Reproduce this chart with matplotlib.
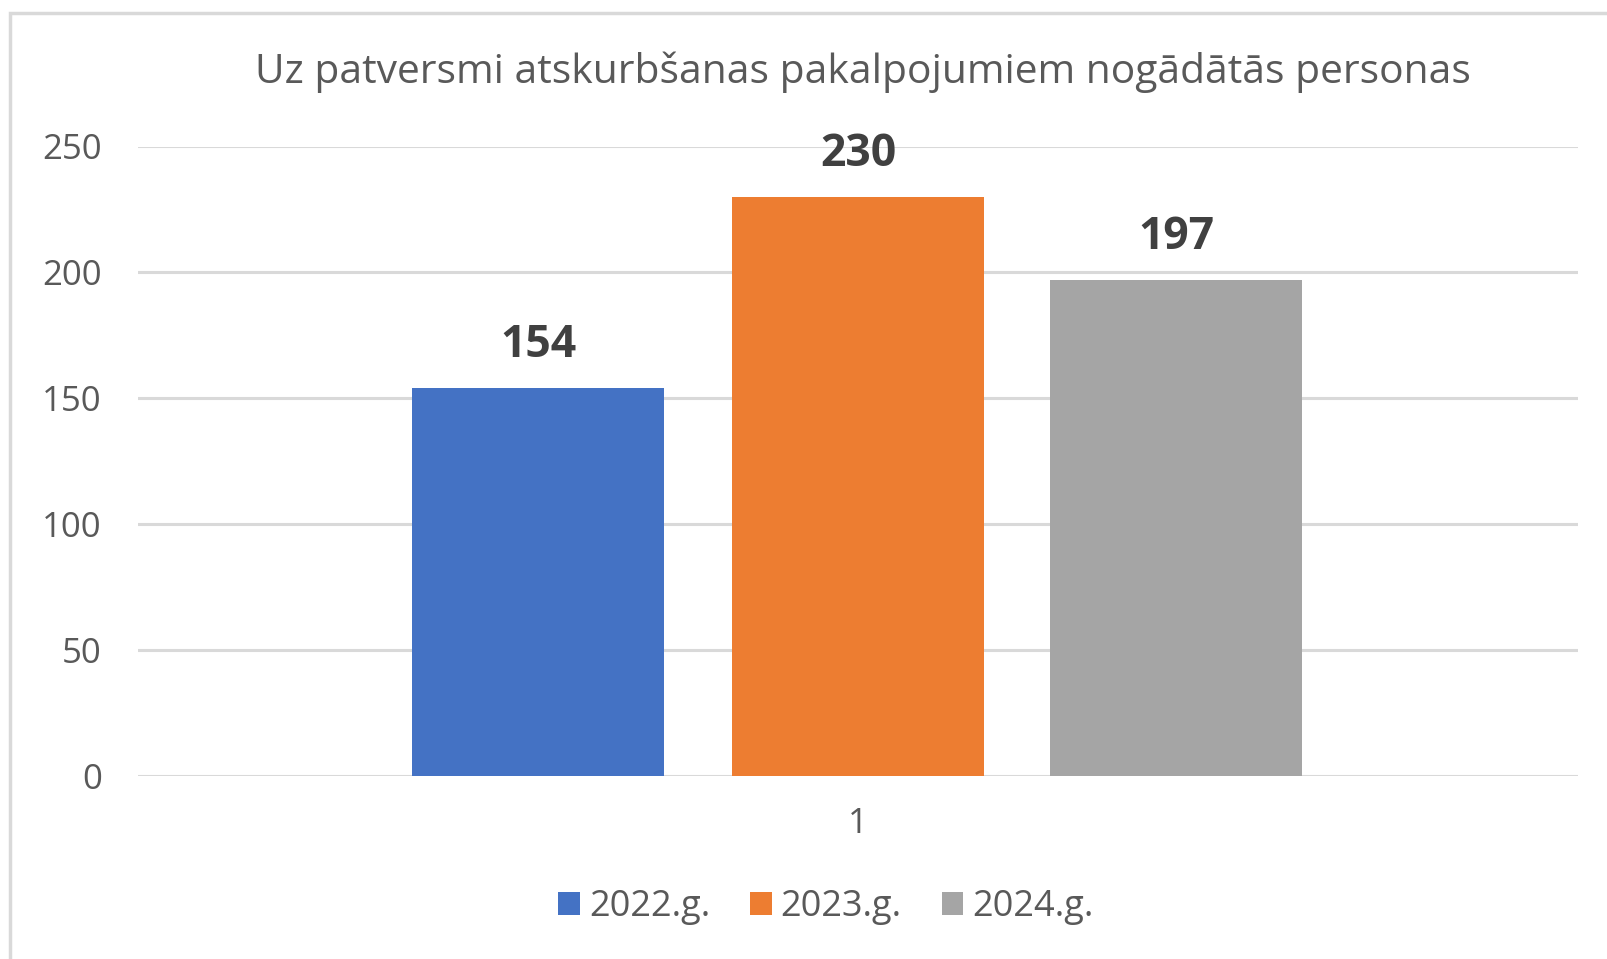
import matplotlib
matplotlib.use("Agg")
import matplotlib.pyplot as plt
from matplotlib.patches import Rectangle

plt.rcParams['font.family'] = ['Open Sans', 'DejaVu Sans']

title = "Uz patversmi atskurbšanas pakalpojumiem nogādātās personas"
categories = ["1"]
series = ["2022.g.", "2023.g.", "2024.g."]
values = [154, 230, 197]
colors = ["#4472C4", "#ED7D31", "#A5A5A5"]
yticks = [0, 50, 100, 150, 200, 250]

W, H = 1607, 959
fig = plt.figure(figsize=(W / 100, H / 100), dpi=100)

# outer chart frame (light gray, cut off at right and bottom)
fig.patches.append(Rectangle((10 / W, -0.1), 1.2, 1 - 13 / H + 0.1,
                             transform=fig.transFigure, fill=False,
                             edgecolor="#d9d9d9", linewidth=2.5))

ax = fig.add_axes([138 / W, (H - 776) / H, (1578 - 138) / W, (776 - 146.5) / H])

offsets = [-0.222, 0.0, 0.221]
width = 0.175
for i, (name, v, c) in enumerate(zip(series, values, colors)):
    ax.bar(0 + offsets[i], v, width=width, color=c, label=name, zorder=3)
    ax.text(0 + offsets[i], v + 8, str(v), ha="center", va="bottom",
            fontsize=32, fontweight="bold", color="#404040", clip_on=False)

ax.set_xlim(-0.5, 0.5)
ax.set_ylim(0, 250)
ax.set_yticks(yticks)
ax.set_yticklabels([str(t) for t in yticks])
ax.set_xticks([0])
ax.set_xticklabels(categories)
ax.grid(axis="y", color="#d9d9d9", linewidth=2.2, zorder=0)
ax.set_axisbelow(True)
for s in ax.spines.values():
    s.set_visible(False)
ax.tick_params(axis="both", length=0, labelsize=25, labelcolor="#595959")
ax.tick_params(axis="y", pad=26)
ax.tick_params(axis="x", pad=22)

fig.text(863 / W, 1 - 72 / H, title, ha="center", va="center",
         fontsize=29.3, color="#595959")

fig.legend(loc="center", bbox_to_anchor=(826 / W, 1 - 907 / H), ncol=3,
           frameon=False, fontsize=26, labelcolor="#595959",
           handlelength=0.6, handleheight=0.6, handletextpad=0.25,
           columnspacing=1.1)

fig.savefig("out.png", dpi=100, facecolor="white")
